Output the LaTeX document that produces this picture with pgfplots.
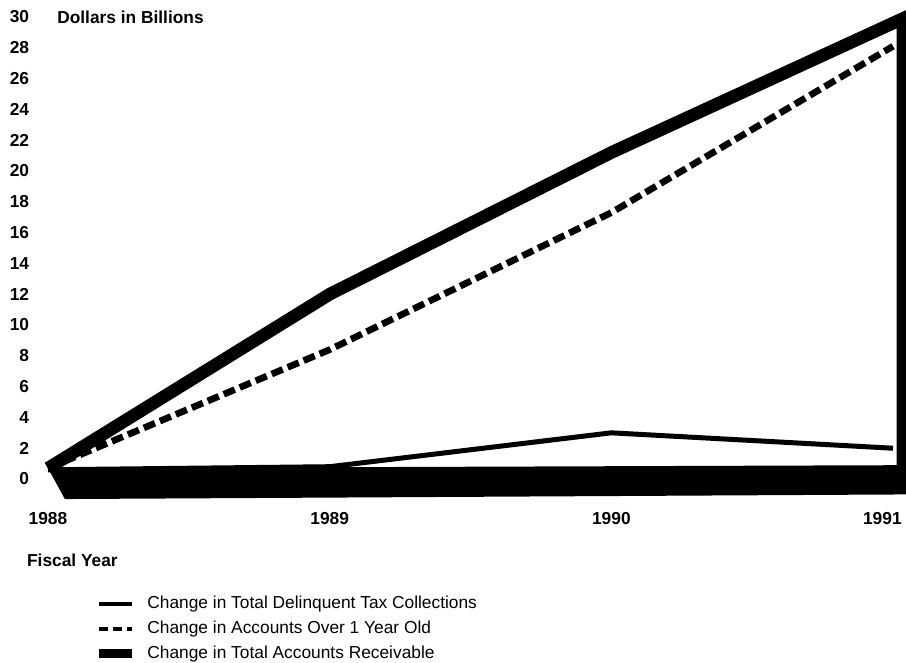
\documentclass[border=0pt]{standalone}
\usepackage{pgfplots}
\pgfplotsset{compat=1.18}
\usepackage{fontspec}
\setmainfont{Liberation Sans}
\begin{document}
\begin{tikzpicture}
\begin{axis}[
  scale only axis, width=633.75pt, height=346.5pt,
  xmin=1988, xmax=1991, ymin=0, ymax=30,
  clip=false,
  axis line style={draw=none},
  major tick length=0pt,
  xtick={1988,1989,1990},
  xticklabels={1988,1989,1990},
  extra x ticks={1991},
  extra x tick labels={1991},
  extra x tick style={xticklabel style={xshift=-8pt}},
  ytick={0,2,...,30},
  /pgf/number format/assume math mode=true,
  ticklabel style={font=\fontsize{13}{15}\selectfont\bfseries},
  yticklabel style={anchor=east, inner sep=0pt, xshift=-14pt},
  xticklabel style={anchor=base, inner sep=0pt, yshift=-34pt},
  legend image code/.code={\draw[#1] (0pt,0pt) -- (25pt,0pt);},
  legend cell align=left,
  legend style={draw=none, fill=none, inner sep=0pt, outer sep=0pt,
    at={(axis cs:1988.166,-7.53)}, anchor=north west,
    font=\fontsize{13}{15}\selectfont, row sep=4.4pt,
    nodes={inner sep=1pt, text height=9.5pt, text depth=2.5pt},
    /tikz/every odd column/.append style={column sep=7pt}},
]
% bottom band
\addplot[draw=none, fill=black, forget plot] coordinates {(1988,0.7) (1991.05,0.9) (1991.05,-1.0) (1988.06,-1.3)} -- cycle;
% Change in Total Accounts Receivable
\addplot[line width=9.5pt, line join=miter, forget plot] coordinates {(1988,0.7) (1989,12) (1990,21.2) (1991.035,29.9) (1991.035,-0.5)};
% Change in Accounts Over 1 Year Old
\addplot[line width=5pt, dash pattern=on 9pt off 4pt, forget plot] coordinates {(1988,0.7) (1989,8.4) (1990,17.3) (1991,28.1)};
% Change in Total Delinquent Tax Collections
\addplot[line width=3.75pt, line join=round, forget plot] coordinates {(1988,0.6) (1989,0.8) (1990,3.0) (1991,2.0)};

\addlegendimage{line width=3pt}
\addlegendentry{Change in Total Delinquent Tax Collections}
\addlegendimage{line width=3.5pt, dash pattern=on 7pt off 3.5pt}
\addlegendentry{Change in Accounts Over 1 Year Old}
\addlegendimage{line width=6.5pt}
\addlegendentry{Change in Total Accounts Receivable}

\node[anchor=west, inner sep=0pt, font=\fontsize{13}{15}\selectfont\bfseries] at (axis cs:1988.032,30) {Dollars in Billions};
\node[anchor=west, inner sep=0pt, font=\fontsize{13}{15}\selectfont\bfseries] at (axis cs:1987.925,-5.26) {Fiscal Year};
\coordinate (bbsw) at (axis cs:1987.8296,-11.883);
\coordinate (bbne) at (axis cs:1991.046,31.104);
\end{axis}
\pgfresetboundingbox
\useasboundingbox (bbsw) rectangle (bbne);
\end{tikzpicture}
\end{document}
